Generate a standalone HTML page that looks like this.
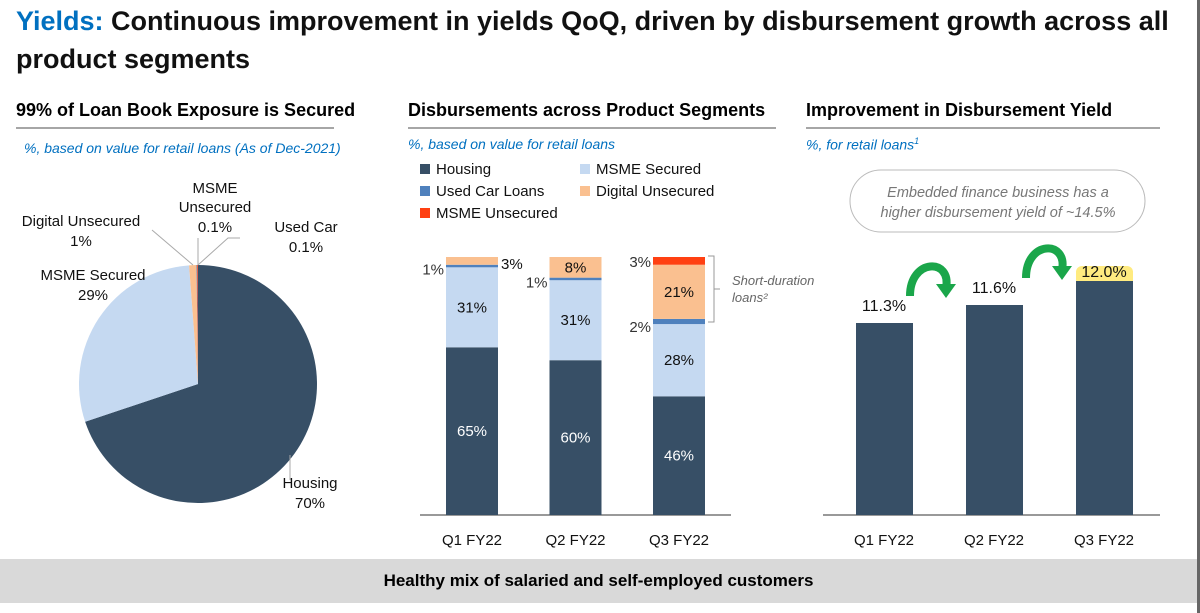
<!DOCTYPE html>
<html><head><meta charset="utf-8"><style>
body{margin:0;width:1200px;height:613px;background:#fff;overflow:hidden;font-family:"Liberation Sans",sans-serif;position:relative}
.t{position:absolute;white-space:nowrap}
svg{position:absolute;left:0;top:0}
</style></head><body>
<div class="t" style="left:16px;top:2px;font-size:27px;font-weight:bold;line-height:38px;color:#111"><span style="color:#0070c0">Yields:</span> Continuous improvement in yields QoQ, driven by disbursement growth across all<br>product segments</div>
<div class="t" style="left:16px;top:100px;font-size:18px;font-weight:bold">99% of Loan Book Exposure is Secured</div>
<div class="t" style="left:408px;top:100px;font-size:18px;font-weight:bold">Disbursements across Product Segments</div>
<div class="t" style="left:806px;top:100px;font-size:18px;font-weight:bold">Improvement in Disbursement Yield</div>
<div class="t" style="left:24px;top:140px;font-size:14px;font-style:italic;color:#0070c0">%, based on value for retail loans (As of Dec-2021)</div>
<div class="t" style="left:408px;top:136px;font-size:14px;font-style:italic;color:#0070c0">%, based on value for retail loans</div>
<div class="t" style="left:806px;top:136px;font-size:14px;font-style:italic;color:#0070c0">%, for retail loans<sup style="font-size:9px">1</sup></div>
<div class="t" style="left:0;top:559px;width:1197px;height:44px;background:#d9d9d9;text-align:center;line-height:44px;font-size:17px;font-weight:bold">Healthy mix of salaried and self-employed customers</div>
<div class="t" style="left:1197px;top:0;width:3px;height:613px;background:#666"></div>
<svg id="s" width="1200" height="613" font-family="Liberation Sans, sans-serif">
<line x1="16" y1="128" x2="334" y2="128" stroke="#888" stroke-width="1.5"/>
<line x1="408" y1="128" x2="776" y2="128" stroke="#888" stroke-width="1.5"/>
<line x1="806" y1="128" x2="1160" y2="128" stroke="#888" stroke-width="1.5"/>
</svg>
<script>
const pieLabels=["Housing","MSME Secured","Digital Unsecured","Used Car","MSME Unsecured"];
const pieValues=[70,29,1,0.1,0.1];
const pieText=["70%","29%","1%","0.1%","0.1%"];
const barCats=["Q1 FY22","Q2 FY22","Q3 FY22"];
const housing=[65,60,46];
const msmeSec=[31,31,28];
const usedCar=[1,1,2];
const digital=[3,8,21];
const msmeUnsec=[0,0,3];
const yieldCats=["Q1 FY22","Q2 FY22","Q3 FY22"];
const yieldVals=[11.3,11.6,12.0];

const s=document.getElementById('s');const NS='http://www.w3.org/2000/svg';
function mk(t,a,p){const e=document.createElementNS(NS,t);for(const k in a)e.setAttribute(k,a[k]);(p||s).appendChild(e);return e;}
function txt(x,y,str,o){o=o||{};const e=mk('text',{x:x,y:y,'font-size':o.fs||15,'text-anchor':o.a||'middle',fill:o.c||'#111'});if(o.i)e.setAttribute('font-style','italic');if(o.b)e.setAttribute('font-weight','bold');e.textContent=str;return e;}
const colors=["#374f66","#c5d9f1","#fac090","#4f81bd","#ff4012"];
// pie
const cx=198,cy=384,r=119;const tot=pieValues.reduce((a,b)=>a+b,0);let ang=0;
pieValues.forEach((v,i)=>{const a0=ang,a1=ang+v/tot*2*Math.PI;ang=a1;
const x0=cx+r*Math.sin(a0),y0=cy-r*Math.cos(a0),x1=cx+r*Math.sin(a1),y1=cy-r*Math.cos(a1);
const p=mk('path',{d:`M${cx},${cy}L${x0},${y0}A${r},${r} 0 ${a1-a0>Math.PI?1:0} 1 ${x1},${y1}Z`,fill:colors[i]});

});
mk('polyline',{points:"152,230 193,265",stroke:"#aaa",fill:"none"});
mk('line',{x1:198,y1:265,x2:198,y2:238,stroke:"#aaa"});
mk('polyline',{points:"198,265 228,238 240,238",stroke:"#aaa",fill:"none"});
mk('line',{x1:290,y1:455,x2:290,y2:480,stroke:"#aaa"});
[[0,310,488],[1,93,280],[2,81,226],[3,306,232]].forEach(([i,x,y])=>{txt(x,y,pieLabels[i]);txt(x,y+20,pieText[i]);});
txt(215,193,"MSME");txt(215,212,"Unsecured");txt(215,232,pieText[4]);
// legend
const leg=[["Housing",0,420,174],["MSME Secured",1,580,174],["Used Car Loans",3,420,196],["Digital Unsecured",2,580,196],["MSME Unsecured",4,420,218]];
leg.forEach(([n,c,x,y])=>{const g=mk('g',{});mk('rect',{x:x,y:y-10,width:10,height:10,fill:colors[c]},g);const t=txt(x+16,y,n,{a:'start'});g.appendChild(t);});
// stacked bars
const base=515,full=258,bw=52;const bx=i=>446+i*103.5;const ys=v=>v/100*full;
mk('line',{x1:420,y1:base,x2:731,y2:base,stroke:"#999",'stroke-width':2});
const series=[[housing,0],[msmeSec,1],[usedCar,3],[digital,2],[msmeUnsec,4]];
barCats.forEach((c,i)=>{let y=base;series.forEach(([arr,ci],k)=>{const h=ys(arr[i]);if(h<=0)return;y-=h;const rc=mk('rect',{x:bx(i),y:y,width:bw,height:h,fill:colors[ci]});});
txt(bx(i)+bw/2,545,c,{fs:15});
const hy=base-ys(housing[i]);txt(bx(i)+bw/2,(base+hy)/2+5,housing[i]+"%",{c:'#fff'});
const my=hy-ys(msmeSec[i]);txt(bx(i)+bw/2,(hy+my)/2+5,msmeSec[i]+"%");
const uy=my-ys(usedCar[i]);const dy=uy-ys(digital[i]);
txt(bx(i)-2,(i==2?my:uy)+(i==2?8:10),usedCar[i]+"%",{a:'end',c:'#333'});
if(digital[i]>=5)txt(bx(i)+bw/2,(uy+dy)/2+5,digital[i]+"%");else txt(bx(i)+bw+3,dy+12,digital[i]+"%",{a:'start'});
if(msmeUnsec[i]>0)txt(bx(i)-2,dy-ys(msmeUnsec[i])+10,msmeUnsec[i]+"%",{a:'end',c:'#333'});});
mk('polyline',{points:"708,256 714,256 714,322 708,322",stroke:"#999",fill:"none"});
mk('line',{x1:714,y1:289,x2:720,y2:289,stroke:"#999"});
txt(732,285,"Short-duration",{a:'start',i:1,c:'#666',fs:13});txt(732,302,"loans²",{a:'start',i:1,c:'#666',fs:13});
// yield bars
const yb=515,y0v=8.1,ppu=60;const yx=i=>856+i*110;const yy=v=>yb-(v-y0v)*ppu;
mk('line',{x1:823,y1:yb,x2:1160,y2:yb,stroke:"#999",'stroke-width':2});
yieldVals.forEach((v,i)=>{const top=yy(v);
if(i==2){mk('rect',{x:yx(i),y:top-15,width:57,height:20,rx:6,fill:"#ffeb80"});}
const rc=mk('rect',{x:yx(i),y:top,width:57,height:yb-top,fill:"#374f66"});
txt(yx(i)+28,i==2?top-4:top-12,v.toFixed(1)+"%",{fs:16});txt(yx(i)+28,545,yieldCats[i],{fs:15});});
// arrows
[[932,276],[1048,258]].forEach(([x,y])=>{mk('path',{d:`M${x-22},${y+20}C${x-22},${y-18} ${x+20},${y-18} ${x+14},${y+12}`,stroke:"#1aa64a",'stroke-width':8,fill:"none"});mk('path',{d:`M${x+4},${y+8}L${x+24},${y+8}L${x+14},${y+22}Z`,fill:"#1aa64a"});});
// bubble
mk('rect',{x:850,y:170,width:295,height:62,rx:31,fill:"#fff",stroke:"#bbb"});
txt(998,197,"Embedded finance business has a",{i:1,c:'#777',fs:14.5});txt(998,217,"higher disbursement yield of ~14.5%",{i:1,c:'#777',fs:14.5});
</script>
</body></html>
